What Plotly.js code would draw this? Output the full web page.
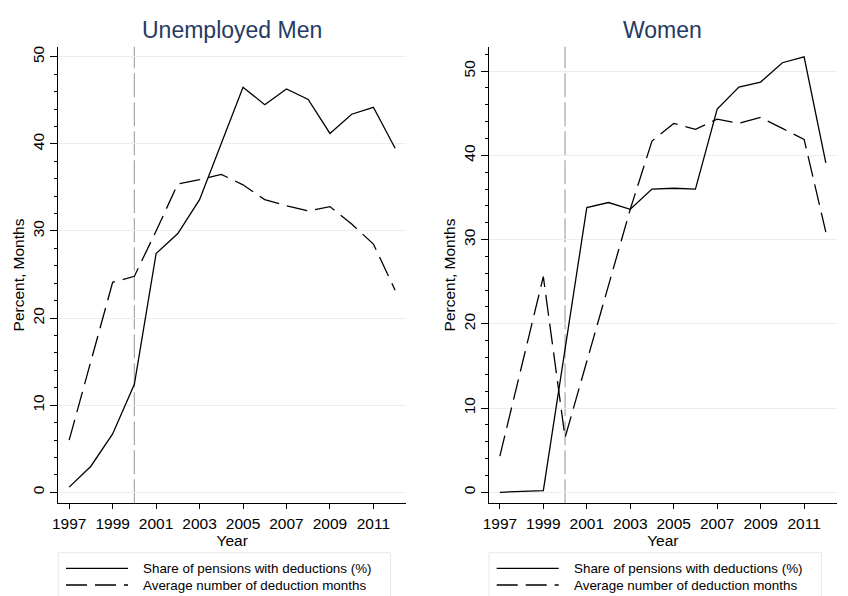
<!DOCTYPE html>
<html>
<head>
<meta charset="utf-8">
<script src="https://cdn.plot.ly/plotly-3.0.1.min.js"></script>
<style>
  html, body { margin: 0; padding: 0; background: #ffffff; }
  #chart { width: 848px; height: 596px; }
</style>
</head>
<body>
<div id="chart"></div>
<script>
// ---- Data ----
const years = [1997, 1998, 1999, 2000, 2001, 2002, 2003, 2004, 2005, 2006, 2007, 2008, 2009, 2010, 2011, 2012];
const menShare    = [0.6, 3.0, 6.7, 12.4, 27.4, 29.7, 33.6, 40.0, 46.5, 44.5, 46.3, 45.1, 41.2, 43.4, 44.2, 39.5];
const menMonths   = [6.0, 15.2, 24.1, 24.8, 30.0, 35.4, 35.9, 36.5, 35.3, 33.6, 32.9, 32.3, 32.8, 30.8, 28.5, 23.2];
const womenShare  = [0.0, 0.1, 0.2, 17.0, 33.8, 34.4, 33.6, 36.0, 36.1, 36.0, 45.5, 48.1, 48.7, 51.0, 51.7, 39.1];
const womenMonths = [4.3, 15.0, 25.6, 6.5, 15.5, 24.6, 33.6, 41.7, 43.8, 43.1, 44.3, 43.8, 44.5, 43.2, 41.9, 30.9];
const reformYear = [2000];
const xTickVals = [1997, 1999, 2001, 2003, 2005, 2007, 2009, 2011];
const yTickVals = [0, 10, 20, 30, 40, 50];
const panelTitles = ["Unemployed Men", "Women"];
const seriesNames = ["Share of pensions with deductions (%)", "Average number of deduction months"];
const xTitle = "Year";
const yTitle = "Percent, Months";

// ---- Styling ----
const W = 848, H = 596;
const FONT = "Arial, 'Liberation Sans', Helvetica, sans-serif";
const solidLine = { color: "#000000", width: 1.3 };
const dashLine = { color: "#000000", width: 1.3, dash: "21px,8px" };
const seriesLines = [solidLine, dashLine];

function mk(x, y, name, line, xa, ya) {
  return { x: x, y: y, name: name, type: "scatter", mode: "lines", line: line,
           xaxis: xa, yaxis: ya, showlegend: false, hoverinfo: "skip" };
}

const data = [
  mk(years, menShare, seriesNames[0], solidLine, "x", "y"),
  mk(years, menMonths, seriesNames[1], dashLine, "x", "y"),
  mk(years, womenShare, seriesNames[0], solidLine, "x2", "y2"),
  mk(years, womenMonths, seriesNames[1], dashLine, "x2", "y2")
];

const yDom = [0.1555, 0.9216];
const xDoms = [[58.3 / W, 406 / W], [489 / W, 836.7 / W]];
function xAxis(domain, anchor) {
  return {
    domain: domain, anchor: anchor, range: [1996.5, 2012.5],
    tickvals: xTickVals, ticks: "outside", ticklen: 5, tickwidth: 1, tickcolor: "#000",
    ticklabelstandoff: 1,
    showline: true, linecolor: "#000", linewidth: 1, showgrid: false, zeroline: false,
    tickfont: { family: FONT, size: 15.5, color: "#000" },
    title: { text: xTitle, font: { family: FONT, size: 15.5, color: "#000" }, standoff: 3 },
    automargin: false, fixedrange: true
  };
}
function yAxis(range, anchor) {
  return {
    domain: yDom, anchor: anchor, range: range,
    tickvals: yTickVals, ticks: "outside", ticklen: 7, tickwidth: 1, tickcolor: "#000",
    tickangle: -90,
    minor: { dtick: 2, ticks: "outside", ticklen: 3.5, tickcolor: "#000", showgrid: false },
    showline: true, linecolor: "#000", linewidth: 1,
    showgrid: true, gridcolor: "#e6eff1", gridwidth: 1, zeroline: false,
    tickfont: { family: FONT, size: 15.5, color: "#000" },
    title: { text: yTitle, font: { family: FONT, size: 15.5, color: "#000" }, standoff: 1 },
    automargin: false, fixedrange: true
  };
}

// ---- Legend boxes (one under each panel), drawn as paper-referenced shapes + text ----
const shapes = [
  { type: "line", xref: "x", yref: "y domain", x0: reformYear[0], x1: reformYear[0], y0: 0, y1: 1,
    line: { color: "#a6a6a6", width: 1.2, dash: "24px,5px" }, layer: "below" },
  { type: "line", xref: "x2", yref: "y2 domain", x0: reformYear[0], x1: reformYear[0], y0: 0, y1: 1,
    line: { color: "#a6a6a6", width: 1.2, dash: "24px,5px" }, layer: "below" }
];
const annotations = [];
const legendTop = 552.7, rowY = [568.3, 585];
xDoms.forEach(function (dom, p) {
  const left = dom[0] * W;
  shapes.push({ type: "rect", xref: "paper", yref: "paper",
    x0: left / W, x1: (left + 332.4) / W, y0: -0.02, y1: 1 - legendTop / H,
    line: { color: "#e3e9ec", width: 1 }, fillcolor: "rgba(0,0,0,0)" });
  seriesNames.forEach(function (nm, i) {
    shapes.push({ type: "line", xref: "paper", yref: "paper",
      x0: (left + 7.7) / W, x1: (left + 69.7) / W, y0: 1 - rowY[i] / H, y1: 1 - rowY[i] / H,
      line: seriesLines[i] });
    annotations.push({ text: nm, xref: "paper", yref: "paper",
      x: (left + 83) / W, y: 1 - rowY[i] / H, xanchor: "left", yanchor: "middle",
      showarrow: false, font: { family: FONT, size: 13.4, color: "#000" } });
  });
  annotations.push({ text: panelTitles[p], xref: (p === 0 ? "x" : "x2") + " domain", yref: "paper",
    x: 0.5, y: 1 - 45 / H, xanchor: "center", yanchor: "bottom", showarrow: false,
    font: { family: FONT, size: 23, color: "#263a63" } });
});

const layout = {
  width: W, height: H,
  margin: { l: 0, r: 0, t: 0, b: 0, pad: 0 },
  paper_bgcolor: "#ffffff", plot_bgcolor: "#ffffff",
  font: { family: FONT, color: "#000" },
  showlegend: false,
  xaxis: xAxis(xDoms[0], "y"),
  yaxis: yAxis([-1.26, 51.15], "x"),
  xaxis2: xAxis(xDoms[1], "y2"),
  yaxis2: yAxis([-1.31, 52.9], "x2"),
  shapes: shapes,
  annotations: annotations
};

Plotly.newPlot("chart", data, layout, { staticPlot: true, displayModeBar: false });
</script>
</body>
</html>
